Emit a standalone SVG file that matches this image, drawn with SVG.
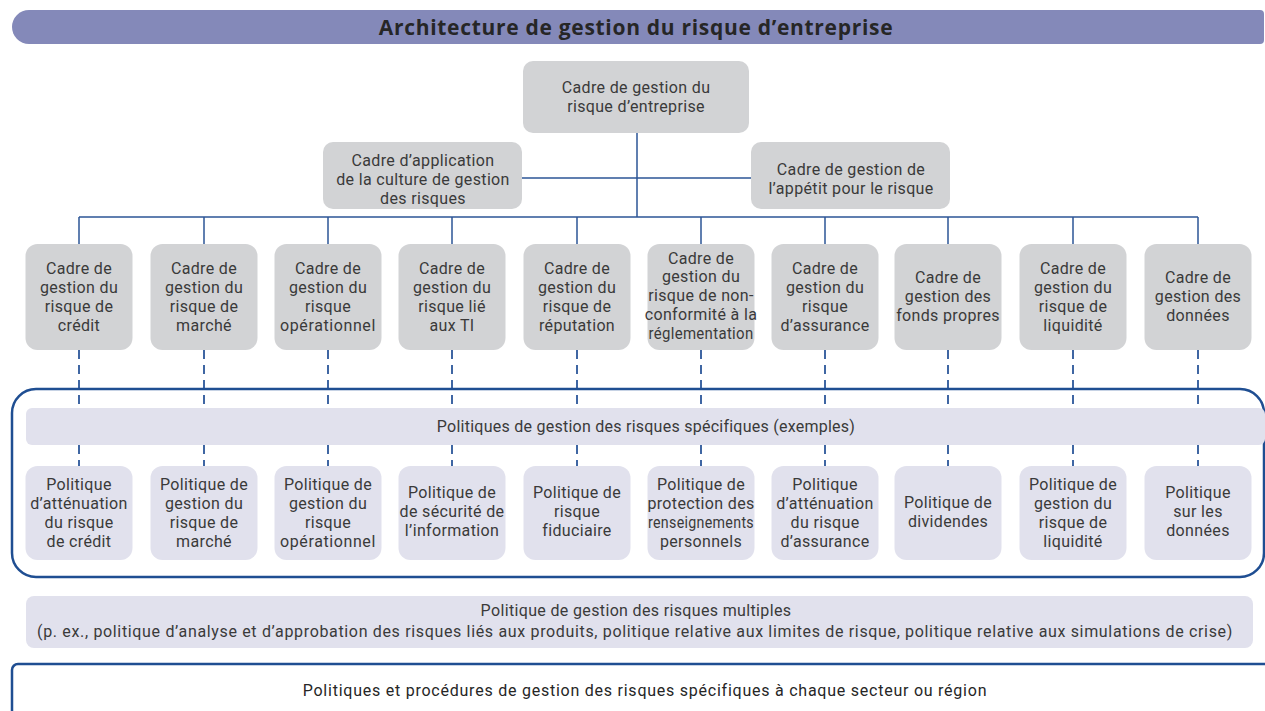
<svg xmlns="http://www.w3.org/2000/svg" width="1265" height="711" viewBox="0 0 1265 711">
  <style>
    .t { font-family: Roboto, "Noto Sans", "Liberation Sans", sans-serif; font-size: 16px; letter-spacing: 0.35px; fill: #3a3a3a; text-anchor: middle; }
    .wide { letter-spacing: 0.6px; }
    .band { letter-spacing: 0.25px; }
    .title { font-family: "Open Sans", "Noto Sans", "Liberation Sans", sans-serif; font-size: 21px; font-weight: bold; letter-spacing: 0.7px; fill: #262626; text-anchor: middle; }
    .frame { fill: #d2d3d5; }
    .pol { fill: #e1e1ed; }
    .link { stroke: #2d5596; stroke-width: 1.5; fill: none; }
    .dash { stroke: #3f66a3; stroke-width: 2; stroke-dasharray: 9 6; fill: none; }
    .outline { stroke: #1f4e92; stroke-width: 2.5; fill: none; }
  </style>

  <!-- Title bar -->
  <g id="title">
    <path d="M29 10 H1260 A4 4 0 0 1 1264 14 V40 A4 4 0 0 1 1260 44 H29 A17 17 0 0 1 12 27 A17 17 0 0 1 29 10 Z" fill="#8489b9"/>
    <text class="title" x="636" y="34.5">Architecture de gestion du risque d’entreprise</text>
  </g>

  <!-- Connectors -->
  <g id="connectors">
    <path class="link" d="M637 133 V217 M522 178 H751 M79 217 H1198"/>
    <path class="link" d="M79 217 V244 M204 217 V244 M328 217 V244 M452 217 V244 M577 217 V244 M701 217 V244 M825 217 V244 M948 217 V244 M1073 217 V244 M1198 217 V244"/>
    <path class="dash" d="M79 350 V408 M204 350 V408 M328 350 V408 M452 350 V408 M577 350 V408 M701 350 V408 M825 350 V408 M948 350 V408 M1073 350 V408 M1198 350 V408"/>
    <path class="dash" d="M79 445 V466 M204 445 V466 M328 445 V466 M452 445 V466 M577 445 V466 M701 445 V466 M825 445 V466 M948 445 V466 M1073 445 V466 M1198 445 V466"/>
  </g>

  <!-- Top-level frameworks -->
  <g id="erm">
    <rect class="frame" x="523" y="61" width="226" height="72" rx="10"/>
    <text class="t" x="636" y="93">Cadre de gestion du</text>
    <text class="t" x="636" y="112">risque d’entreprise</text>
  </g>
  <g id="culture">
    <rect class="frame" x="323" y="142" width="199" height="67" rx="10"/>
    <text class="t" x="423" y="166">Cadre d’application</text>
    <text class="t" x="423" y="185">de la culture de gestion</text>
    <text class="t" x="423" y="204">des risques</text>
  </g>
  <g id="appetite">
    <rect class="frame" x="751" y="142" width="199" height="67" rx="10"/>
    <text class="t" x="851" y="175">Cadre de gestion de</text>
    <text class="t" x="851" y="194">l’appétit pour le risque</text>
  </g>

  <!-- Risk-specific frameworks -->
  <g id="f-credit">
    <rect class="frame" x="25.5" y="244" width="107" height="106" rx="12"/>
    <text class="t" x="79" y="273.5">Cadre de</text>
    <text class="t" x="79" y="292.5">gestion du</text>
    <text class="t" x="79" y="311.5">risque de</text>
    <text class="t" x="79" y="330.5">crédit</text>
  </g>
  <g id="f-market">
    <rect class="frame" x="150.5" y="244" width="107" height="106" rx="12"/>
    <text class="t" x="204" y="273.5">Cadre de</text>
    <text class="t" x="204" y="292.5">gestion du</text>
    <text class="t" x="204" y="311.5">risque de</text>
    <text class="t" x="204" y="330.5">marché</text>
  </g>
  <g id="f-operational">
    <rect class="frame" x="274.5" y="244" width="107" height="106" rx="12"/>
    <text class="t" x="328" y="273.5">Cadre de</text>
    <text class="t" x="328" y="292.5">gestion du</text>
    <text class="t" x="328" y="311.5">risque</text>
    <text class="t wide" x="328" y="330.5">opérationnel</text>
  </g>
  <g id="f-it">
    <rect class="frame" x="398.5" y="244" width="107" height="106" rx="12"/>
    <text class="t" x="452" y="273.5">Cadre de</text>
    <text class="t" x="452" y="292.5">gestion du</text>
    <text class="t" x="452" y="311.5">risque lié</text>
    <text class="t" x="452" y="330.5">aux TI</text>
  </g>
  <g id="f-reputation">
    <rect class="frame" x="523.5" y="244" width="107" height="106" rx="12"/>
    <text class="t" x="577" y="273.5">Cadre de</text>
    <text class="t" x="577" y="292.5">gestion du</text>
    <text class="t" x="577" y="311.5">risque de</text>
    <text class="t" x="577" y="330.5">réputation</text>
  </g>
  <g id="f-compliance">
    <rect class="frame" x="647.5" y="244" width="107" height="106" rx="12"/>
    <text class="t" x="701" y="263.5">Cadre de</text>
    <text class="t" x="701" y="282.3">gestion du</text>
    <text class="t" x="701" y="301.1">risque de non-</text>
    <text class="t" x="701" y="319.9">conformité à la</text>
    <text class="t" x="701" y="338.7" textLength="105" lengthAdjust="spacingAndGlyphs">réglementation</text>
  </g>
  <g id="f-insurance">
    <rect class="frame" x="771.5" y="244" width="107" height="106" rx="12"/>
    <text class="t" x="825" y="273.5">Cadre de</text>
    <text class="t" x="825" y="292.5">gestion du</text>
    <text class="t" x="825" y="311.5">risque</text>
    <text class="t" x="825" y="330.5">d’assurance</text>
  </g>
  <g id="f-capital">
    <rect class="frame" x="894.5" y="244" width="107" height="106" rx="12"/>
    <text class="t" x="948" y="283">Cadre de</text>
    <text class="t" x="948" y="302">gestion des</text>
    <text class="t" x="948" y="321">fonds propres</text>
  </g>
  <g id="f-liquidity">
    <rect class="frame" x="1019.5" y="244" width="107" height="106" rx="12"/>
    <text class="t" x="1073" y="273.5">Cadre de</text>
    <text class="t" x="1073" y="292.5">gestion du</text>
    <text class="t" x="1073" y="311.5">risque de</text>
    <text class="t" x="1073" y="330.5">liquidité</text>
  </g>
  <g id="f-data">
    <rect class="frame" x="1144.5" y="244" width="107" height="106" rx="12"/>
    <text class="t" x="1198" y="283">Cadre de</text>
    <text class="t" x="1198" y="302">gestion des</text>
    <text class="t" x="1198" y="321">données</text>
  </g>

  <!-- Specific policies container -->
  <g id="specific-policies">
    <rect class="outline" x="12" y="389" width="1252" height="188" rx="24"/>
    <rect class="pol" x="26" y="408" width="1239" height="37" rx="6"/>
    <text class="t band" x="646" y="431.5">Politiques de gestion des risques spécifiques (exemples)</text>
  </g>

  <g id="p-credit">
    <rect class="pol" x="25.5" y="466" width="107" height="94" rx="12"/>
    <text class="t" x="79" y="489.5">Politique</text>
    <text class="t" x="79" y="508.5">d’atténuation</text>
    <text class="t" x="79" y="527.5">du risque</text>
    <text class="t" x="79" y="546.5">de crédit</text>
  </g>
  <g id="p-market">
    <rect class="pol" x="150.5" y="466" width="107" height="94" rx="12"/>
    <text class="t" x="204" y="489.5">Politique de</text>
    <text class="t" x="204" y="508.5">gestion du</text>
    <text class="t" x="204" y="527.5">risque de</text>
    <text class="t" x="204" y="546.5">marché</text>
  </g>
  <g id="p-operational">
    <rect class="pol" x="274.5" y="466" width="107" height="94" rx="12"/>
    <text class="t" x="328" y="489.5">Politique de</text>
    <text class="t" x="328" y="508.5">gestion du</text>
    <text class="t" x="328" y="527.5">risque</text>
    <text class="t wide" x="328" y="546.5">opérationnel</text>
  </g>
  <g id="p-infosec">
    <rect class="pol" x="398.5" y="466" width="107" height="94" rx="12"/>
    <text class="t" x="452" y="498">Politique de</text>
    <text class="t" x="452" y="517">de sécurité de</text>
    <text class="t" x="452" y="536">l’information</text>
  </g>
  <g id="p-fiduciary">
    <rect class="pol" x="523.5" y="466" width="107" height="94" rx="12"/>
    <text class="t" x="577" y="498">Politique de</text>
    <text class="t" x="577" y="517">risque</text>
    <text class="t" x="577" y="536">fiduciaire</text>
  </g>
  <g id="p-privacy">
    <rect class="pol" x="647.5" y="466" width="107" height="94" rx="12"/>
    <text class="t" x="701" y="489.5">Politique de</text>
    <text class="t" x="701" y="508.5">protection des</text>
    <text class="t" x="701" y="527.5" textLength="106" lengthAdjust="spacingAndGlyphs">renseignements</text>
    <text class="t" x="701" y="546.5">personnels</text>
  </g>
  <g id="p-insurance">
    <rect class="pol" x="771.5" y="466" width="107" height="94" rx="12"/>
    <text class="t" x="825" y="489.5">Politique</text>
    <text class="t" x="825" y="508.5">d’atténuation</text>
    <text class="t" x="825" y="527.5">du risque</text>
    <text class="t" x="825" y="546.5">d’assurance</text>
  </g>
  <g id="p-dividends">
    <rect class="pol" x="894.5" y="466" width="107" height="94" rx="12"/>
    <text class="t" x="948" y="508">Politique de</text>
    <text class="t" x="948" y="527">dividendes</text>
  </g>
  <g id="p-liquidity">
    <rect class="pol" x="1019.5" y="466" width="107" height="94" rx="12"/>
    <text class="t" x="1073" y="489.5">Politique de</text>
    <text class="t" x="1073" y="508.5">gestion du</text>
    <text class="t" x="1073" y="527.5">risque de</text>
    <text class="t" x="1073" y="546.5">liquidité</text>
  </g>
  <g id="p-data">
    <rect class="pol" x="1144.5" y="466" width="107" height="94" rx="12"/>
    <text class="t" x="1198" y="498">Politique</text>
    <text class="t" x="1198" y="517">sur les</text>
    <text class="t" x="1198" y="536">données</text>
  </g>

  <!-- Cross-risk policy -->
  <g id="multi-risk">
    <rect class="pol" x="26" y="596" width="1227" height="52" rx="8"/>
    <text class="t" x="636" y="615.5">Politique de gestion des risques multiples</text>
    <text class="t" x="635" y="636.5" style="letter-spacing:0.66px">(p. ex., politique d’analyse et d’approbation des risques liés aux produits, politique relative aux limites de risque, politique relative aux simulations de crise)</text>
  </g>

  <!-- Business-unit / regional procedures -->
  <g id="regional">
    <rect class="outline" x="12" y="664" width="1262" height="60" rx="6"/>
    <text class="t" x="645" y="695.5" style="fill:#262626;letter-spacing:0.76px">Politiques et procédures de gestion des risques spécifiques à chaque secteur ou région</text>
  </g>
</svg>
